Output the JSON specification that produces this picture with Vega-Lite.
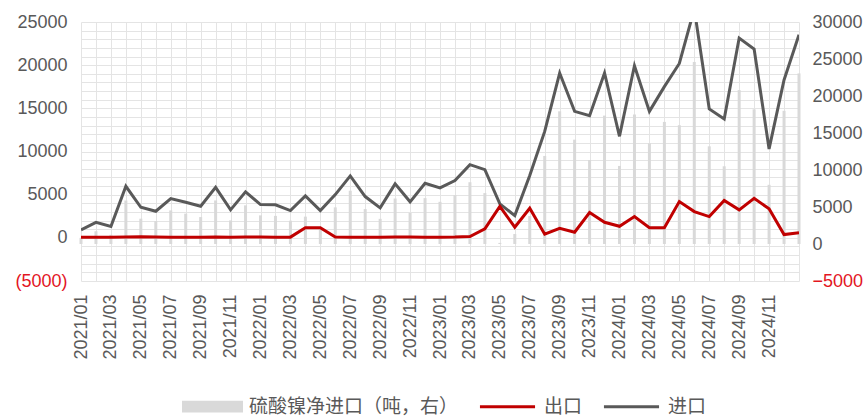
{
  "$schema": "https://vega.github.io/schema/vega-lite/v6.json",
  "width": 718,
  "height": 259,
  "autosize": {"type": "none"},
  "padding": {"left": 81, "top": 22, "right": 69, "bottom": 136},
  "background": "white",
  "config": {
    "view": {"stroke": null},
    "font": "Liberation Sans",
    "axis": {"labelFont": "Liberation Sans", "labelFontSize": 18, "labelColor": "#595959", "ticks": false, "domain": false, "title": null}
  },
  "data": {"values": [
    {"m":"2021/01","s":"进口","v":930},{"m":"2021/02","s":"进口","v":1800},{"m":"2021/03","s":"进口","v":1310},{"m":"2021/04","s":"进口","v":5970},{"m":"2021/05","s":"进口","v":3540},{"m":"2021/06","s":"进口","v":3080},{"m":"2021/07","s":"进口","v":4550},{"m":"2021/08","s":"进口","v":4120},{"m":"2021/09","s":"进口","v":3660},{"m":"2021/10","s":"进口","v":5850},{"m":"2021/11","s":"进口","v":3240},{"m":"2021/12","s":"进口","v":5320},
    {"m":"2022/01","s":"进口","v":3850},{"m":"2022/02","s":"进口","v":3820},{"m":"2022/03","s":"进口","v":3160},{"m":"2022/04","s":"进口","v":4860},{"m":"2022/05","s":"进口","v":3160},{"m":"2022/06","s":"进口","v":5010},{"m":"2022/07","s":"进口","v":7170},{"m":"2022/08","s":"进口","v":4780},{"m":"2022/09","s":"进口","v":3470},{"m":"2022/10","s":"进口","v":6250},{"m":"2022/11","s":"进口","v":4170},{"m":"2022/12","s":"进口","v":6320},
    {"m":"2023/01","s":"进口","v":5790},{"m":"2023/02","s":"进口","v":6630},{"m":"2023/03","s":"进口","v":8480},{"m":"2023/04","s":"进口","v":7900},{"m":"2023/05","s":"进口","v":3930},{"m":"2023/06","s":"进口","v":2580},{"m":"2023/07","s":"进口","v":7210},{"m":"2023/08","s":"进口","v":12330},{"m":"2023/09","s":"进口","v":19090},{"m":"2023/10","s":"进口","v":14650},{"m":"2023/11","s":"进口","v":14150},{"m":"2023/12","s":"进口","v":19090},
    {"m":"2024/01","s":"进口","v":11760},{"m":"2024/02","s":"进口","v":19940},{"m":"2024/03","s":"进口","v":14650},{"m":"2024/04","s":"进口","v":17510},{"m":"2024/05","s":"进口","v":20200},{"m":"2024/06","s":"进口","v":26500},{"m":"2024/07","s":"进口","v":14930},{"m":"2024/08","s":"进口","v":13770},{"m":"2024/09","s":"进口","v":23140},{"m":"2024/10","s":"进口","v":21870},{"m":"2024/11","s":"进口","v":10300},{"m":"2024/12","s":"进口","v":18280},{"m":"2025/01","s":"进口","v":23520},

    {"m":"2021/01","s":"出口","v":80},{"m":"2021/02","s":"出口","v":60},{"m":"2021/03","s":"出口","v":70},{"m":"2021/04","s":"出口","v":90},{"m":"2021/05","s":"出口","v":120},{"m":"2021/06","s":"出口","v":110},{"m":"2021/07","s":"出口","v":80},{"m":"2021/08","s":"出口","v":70},{"m":"2021/09","s":"出口","v":60},{"m":"2021/10","s":"出口","v":90},{"m":"2021/11","s":"出口","v":80},{"m":"2021/12","s":"出口","v":110},
    {"m":"2022/01","s":"出口","v":90},{"m":"2022/02","s":"出口","v":70},{"m":"2022/03","s":"出口","v":80},{"m":"2022/04","s":"出口","v":1160},{"m":"2022/05","s":"出口","v":1160},{"m":"2022/06","s":"出口","v":90},{"m":"2022/07","s":"出口","v":80},{"m":"2022/08","s":"出口","v":70},{"m":"2022/09","s":"出口","v":80},{"m":"2022/10","s":"出口","v":90},{"m":"2022/11","s":"出口","v":100},{"m":"2022/12","s":"出口","v":80},
    {"m":"2023/01","s":"出口","v":70},{"m":"2023/02","s":"出口","v":90},{"m":"2023/03","s":"出口","v":150},{"m":"2023/04","s":"出口","v":1040},{"m":"2023/05","s":"出口","v":3650},{"m":"2023/06","s":"出口","v":1230},{"m":"2023/07","s":"出口","v":3430},{"m":"2023/08","s":"出口","v":420},{"m":"2023/09","s":"出口","v":1100},{"m":"2023/10","s":"出口","v":650},{"m":"2023/11","s":"出口","v":2930},{"m":"2023/12","s":"出口","v":1800},
    {"m":"2024/01","s":"出口","v":1340},{"m":"2024/02","s":"出口","v":2460},{"m":"2024/03","s":"出口","v":1160},{"m":"2024/04","s":"出口","v":1160},{"m":"2024/05","s":"出口","v":4200},{"m":"2024/06","s":"出口","v":3040},{"m":"2024/07","s":"出口","v":2460},{"m":"2024/08","s":"出口","v":4320},{"m":"2024/09","s":"出口","v":3240},{"m":"2024/10","s":"出口","v":4580},{"m":"2024/11","s":"出口","v":3360},{"m":"2024/12","s":"出口","v":380},{"m":"2025/01","s":"出口","v":580},

    {"m":"2021/01","s":"硫酸镍净进口（吨，右）","v":830},{"m":"2021/02","s":"硫酸镍净进口（吨，右）","v":1730},{"m":"2021/03","s":"硫酸镍净进口（吨，右）","v":1240},{"m":"2021/04","s":"硫酸镍净进口（吨，右）","v":5880},{"m":"2021/05","s":"硫酸镍净进口（吨，右）","v":3420},{"m":"2021/06","s":"硫酸镍净进口（吨，右）","v":3100},{"m":"2021/07","s":"硫酸镍净进口（吨，右）","v":4540},{"m":"2021/08","s":"硫酸镍净进口（吨，右）","v":4100},{"m":"2021/09","s":"硫酸镍净进口（吨，右）","v":3640},{"m":"2021/10","s":"硫酸镍净进口（吨，右）","v":5890},{"m":"2021/11","s":"硫酸镍净进口（吨，右）","v":3190},{"m":"2021/12","s":"硫酸镍净进口（吨，右）","v":5220},
    {"m":"2022/01","s":"硫酸镍净进口（吨，右）","v":3870},{"m":"2022/02","s":"硫酸镍净进口（吨，右）","v":3800},{"m":"2022/03","s":"硫酸镍净进口（吨，右）","v":3150},{"m":"2022/04","s":"硫酸镍净进口（吨，右）","v":3700},{"m":"2022/05","s":"硫酸镍净进口（吨，右）","v":2000},{"m":"2022/06","s":"硫酸镍净进口（吨，右）","v":4950},{"m":"2022/07","s":"硫酸镍净进口（吨，右）","v":7200},{"m":"2022/08","s":"硫酸镍净进口（吨，右）","v":4720},{"m":"2022/09","s":"硫酸镍净进口（吨，右）","v":3400},{"m":"2022/10","s":"硫酸镍净进口（吨，右）","v":6150},{"m":"2022/11","s":"硫酸镍净进口（吨，右）","v":4200},{"m":"2022/12","s":"硫酸镍净进口（吨，右）","v":6200},
    {"m":"2023/01","s":"硫酸镍净进口（吨，右）","v":5700},{"m":"2023/02","s":"硫酸镍净进口（吨，右）","v":6600},{"m":"2023/03","s":"硫酸镍净进口（吨，右）","v":8350},{"m":"2023/04","s":"硫酸镍净进口（吨，右）","v":6880},{"m":"2023/05","s":"硫酸镍净进口（吨，右）","v":150},{"m":"2023/06","s":"硫酸镍净进口（吨，右）","v":1350},{"m":"2023/07","s":"硫酸镍净进口（吨，右）","v":3780},{"m":"2023/08","s":"硫酸镍净进口（吨，右）","v":11900},{"m":"2023/09","s":"硫酸镍净进口（吨，右）","v":17930},{"m":"2023/10","s":"硫酸镍净进口（吨，右）","v":14100},{"m":"2023/11","s":"硫酸镍净进口（吨，右）","v":11350},{"m":"2023/12","s":"硫酸镍净进口（吨，右）","v":17350},
    {"m":"2024/01","s":"硫酸镍净进口（吨，右）","v":10550},{"m":"2024/02","s":"硫酸镍净进口（吨，右）","v":17500},{"m":"2024/03","s":"硫酸镍净进口（吨，右）","v":13600},{"m":"2024/04","s":"硫酸镍净进口（吨，右）","v":16500},{"m":"2024/05","s":"硫酸镍净进口（吨，右）","v":16050},{"m":"2024/06","s":"硫酸镍净进口（吨，右）","v":24600},{"m":"2024/07","s":"硫酸镍净进口（吨，右）","v":13200},{"m":"2024/08","s":"硫酸镍净进口（吨，右）","v":10500},{"m":"2024/09","s":"硫酸镍净进口（吨，右）","v":20800},{"m":"2024/10","s":"硫酸镍净进口（吨，右）","v":18200},{"m":"2024/11","s":"硫酸镍净进口（吨，右）","v":8000},{"m":"2024/12","s":"硫酸镍净进口（吨，右）","v":18000},{"m":"2025/01","s":"硫酸镍净进口（吨，右）","v":23050}
  ]},
  "encoding": {
    "x": {
      "field": "m", "type": "ordinal", "sort": null,
      "scale": {"type": "point", "padding": 0},
      "axis": {
        "labelAngle": -90, "labelPadding": 13, "labelOverlap": false,
        "grid": true, "gridColor": "#e4e4e4", "gridWidth": 1,
        "labelExpr": "(indexof(['01','03','05','07','09','11'], slice(datum.value, 5)) >= 0 && datum.value !== '2025/01') ? datum.value : ''"
      }
    }
  },
  "layer": [
    {
      "transform": [{"filter": "datum.s === '硫酸镍净进口（吨，右）'"}],
      "mark": {"type": "bar", "size": 3},
      "encoding": {
        "y": {
          "field": "v", "type": "quantitative",
          "scale": {"domain": [-5000, 30000], "nice": false, "zero": false},
          "axis": {
            "orient": "right", "grid": false, "labelPadding": 13, "format": "d",
            "values": [-5000, 0, 5000, 10000, 15000, 20000, 25000, 30000],
            "labelColor": {"condition": {"test": "datum.value < 0", "value": "#e3161f"}, "value": "#595959"}
          }
        },
        "color": {
          "field": "s", "type": "nominal",
          "scale": {"domain": ["硫酸镍净进口（吨，右）", "出口", "进口"], "range": ["#d9d9d9", "#c00000", "#595959"]},
          "legend": {
            "title": null, "orient": "none", "legendX": 101, "legendY": 354, "padding": 0, "direction": "horizontal",
            "symbolSize": 3364, "symbolStrokeWidth": 3, "labelFontSize": 19, "labelFont": "Noto Sans CJK SC",
            "labelColor": "#595959", "labelOffset": 6, "columnPadding": 14, "labelLimit": 400,
            "encode": {"symbols": {"update": {
              "shape": {"signal": "datum.value === '硫酸镍净进口（吨，右）' ? 'M-1,-0.15H1V0.15H-1Z' : 'M-0.95,0H0.95'"},
              "fill": {"signal": "datum.value === '硫酸镍净进口（吨，右）' ? '#d9d9d9' : 'transparent'"},
              "stroke": {"signal": "datum.value === '硫酸镍净进口（吨，右）' ? 'transparent' : (datum.value === '出口' ? '#c00000' : '#595959')"},
              "strokeWidth": {"value": 3},
              "opacity": {"value": 1}
            }}}
          }
        }
      }
    },
    {
      "transform": [{"filter": "datum.s !== '硫酸镍净进口（吨，右）'"}],
      "mark": {"type": "line", "strokeWidth": 3, "clip": true},
      "encoding": {
        "y": {
          "field": "v", "type": "quantitative",
          "scale": {"domain": [-5000, 25000], "nice": false, "zero": false},
          "axis": {
            "orient": "left", "grid": true, "gridColor": "#e4e4e4", "gridWidth": 1, "labelPadding": 14,
            "values": [-5000,-4000,-3000,-2000,-1000,0,1000,2000,3000,4000,5000,6000,7000,8000,9000,10000,11000,12000,13000,14000,15000,16000,17000,18000,19000,20000,21000,22000,23000,24000,25000],
            "labelExpr": "datum.value % 5000 === 0 ? (datum.value < 0 ? '(' + (-datum.value) + ')' : '' + datum.value) : ''",
            "labelColor": {"condition": {"test": "datum.value < 0", "value": "#e3161f"}, "value": "#595959"}
          }
        },
        "color": {
          "field": "s", "type": "nominal",
          "scale": {"domain": ["硫酸镍净进口（吨，右）", "出口", "进口"], "range": ["#d9d9d9", "#c00000", "#595959"]},
          "legend": {
            "title": null, "orient": "none", "legendX": 101, "legendY": 354, "padding": 0, "direction": "horizontal",
            "symbolSize": 3364, "symbolStrokeWidth": 3, "labelFontSize": 19, "labelFont": "Noto Sans CJK SC",
            "labelColor": "#595959", "labelOffset": 6, "columnPadding": 14, "labelLimit": 400,
            "encode": {"symbols": {"update": {
              "shape": {"signal": "datum.value === '硫酸镍净进口（吨，右）' ? 'M-1,-0.15H1V0.15H-1Z' : 'M-0.95,0H0.95'"},
              "fill": {"signal": "datum.value === '硫酸镍净进口（吨，右）' ? '#d9d9d9' : 'transparent'"},
              "stroke": {"signal": "datum.value === '硫酸镍净进口（吨，右）' ? 'transparent' : (datum.value === '出口' ? '#c00000' : '#595959')"},
              "strokeWidth": {"value": 3},
              "opacity": {"value": 1}
            }}}
          }
        }
      }
    }
  ],
  "resolve": {"scale": {"y": "independent"}}
}
